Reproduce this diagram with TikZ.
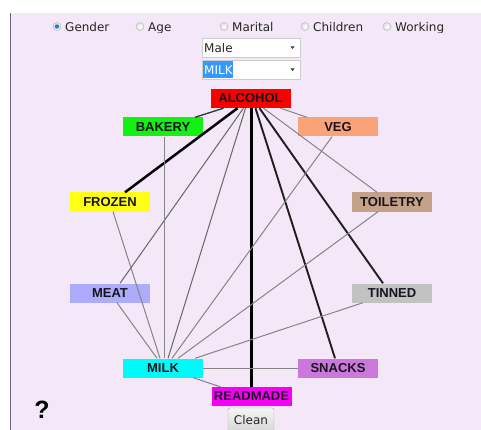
\documentclass[tikz,border=0pt]{standalone}
\usepackage{fontspec}
\newfontfamily\labfont{Liberation Sans}
\newfontfamily\uifont{DejaVu Sans}
\usetikzlibrary{calc}

\definecolor{panelbg}{RGB}{244,231,247}
\definecolor{panelrule}{RGB}{120,100,125}
\definecolor{cAlcohol}{RGB}{250,0,0}
\definecolor{cBakery}{RGB}{20,240,20}
\definecolor{cVeg}{RGB}{250,162,120}
\definecolor{cFrozen}{RGB}{255,255,20}
\definecolor{cToiletry}{RGB}{196,162,138}
\definecolor{cMeat}{RGB}{172,172,250}
\definecolor{cTinned}{RGB}{194,194,194}
\definecolor{cMilk}{RGB}{0,250,250}
\definecolor{cSnacks}{RGB}{202,120,220}
\definecolor{cReadmade}{RGB}{245,0,245}
\definecolor{selblue}{RGB}{51,153,255}
\definecolor{txtdark}{RGB}{25,20,30}

\tikzset{
  item/.style={minimum width=80pt, minimum height=19pt, inner sep=0pt,
    font=\labfont\bfseries\fontsize{13}{13}\selectfont, text=txtdark},
  heavy/.style={line width=2.5pt, black},
  strong/.style={line width=1.9pt, black!88},
  medium/.style={line width=1.3pt, black!80},
  faint/.style={line width=1pt, black!60},
  pale/.style={line width=1pt, black!48},
  radio/.style={circle, minimum size=8pt, inner sep=0pt, draw=black!30,
    inner color=white, outer color=black!12},
  uitext/.style={font=\uifont\fontsize{12}{12}\selectfont, text=black!85, inner sep=0pt},
  dropbox/.style={draw=black!20, fill=white, minimum width=98pt, minimum height=19pt, inner sep=0pt},
}

\begin{document}
\begin{tikzpicture}[x=1pt,y=-1pt]
\useasboundingbox (0,0) rectangle (481,430);
\fill[white] (0,0) rectangle (481,430);
\fill[panelbg] (10,13) rectangle (481,430);
\draw[panelrule, line width=0.8pt] (10,13) -- (10,430);

% option row, its lower edge trims the descenders
\begin{scope}
\clip (10,13) rectangle (481,32.6);
\node[radio] (rgender) at (57,26.5) {};
\fill[selblue!80!black] (rgender) circle (2.2pt);
\node[uitext, anchor=base west] (tgender) at (65,31.8) {Gender};
\node[radio] (rage) at (140,26.5) {};
\node[uitext, anchor=base west] (tage) at (148,31.8) {Age};
\node[radio] (rmarital) at (224,26.5) {};
\node[uitext, anchor=base west] (tmarital) at (232,31.8) {Marital};
\node[radio] (rchildren) at (305,26.5) {};
\node[uitext, anchor=base west] (tchildren) at (313,31.8) {Children};
\node[radio] (rworking) at (387,26.5) {};
\node[uitext, anchor=base west] (tworking) at (395,31.8) {Working};
\end{scope}

% drop-down selectors
\node[dropbox] (gsel) at (251,47.5) {};
\node[uitext, anchor=west] (gval) at (204,48) {Male};
\fill[black!80] (290.5,46.5) -- (294.5,46.5) -- (292.5,49) -- cycle;
\node[dropbox] (psel) at (251,69.5) {};
\fill[selblue] (203,61) rectangle (233,78);
\node[uitext, anchor=west, text=white] (pval) at (204,70) {MILK};
\fill[black!80] (290.5,68.5) -- (294.5,68.5) -- (292.5,71) -- cycle;

% product nodes
\node[item, fill=cAlcohol] (alcohol) at (250.5,98.5) {ALCOHOL};
\node[item, fill=cBakery] (bakery) at (163,127) {BAKERY};
\node[item, fill=cVeg] (veg) at (338,127) {VEG};
\node[item, fill=cFrozen] (frozen) at (110,202) {FROZEN};
\node[item, fill=cToiletry] (toiletry) at (392,202) {TOILETRY};
\node[item, fill=cMeat] (meat) at (110,293) {MEAT};
\node[item, fill=cTinned] (tinned) at (392,293) {TINNED};
\node[item, fill=cMilk] (milk) at (163,368) {MILK};
\node[item, fill=cSnacks] (snacks) at (338,368) {SNACKS};
\node[item, fill=cReadmade] (readmade) at (251.5,396.5) {READMADE};

% links from ALCOHOL
\draw[medium] ([xshift=-27pt]alcohol.south) -- ([xshift=32pt]bakery.north);
\draw[heavy] ([xshift=-13pt]alcohol.south) -- ([xshift=15pt]frozen.north);
\draw[faint] ([xshift=-7pt]alcohol.south) -- ([xshift=10pt]meat.north);
\draw[faint] ([xshift=-5pt]alcohol.south) -- ([xshift=5pt]milk.north);
\draw[heavy] ([xshift=1pt]alcohol.south) -- (readmade.north);
\draw[strong] ([xshift=5pt]alcohol.south) -- ([xshift=-3pt]snacks.north);
\draw[strong] ([xshift=9pt]alcohol.south) -- ([xshift=-9pt]tinned.north);
\draw[pale] ([xshift=13pt]alcohol.south) -- ([xshift=-15pt]toiletry.north);
\draw[pale] ([xshift=30pt]alcohol.south) -- ([xshift=-31pt]veg.north);

% links to MILK
\draw[pale] ([xshift=1pt]bakery.south) -- ([xshift=1pt]milk.north);
\draw[pale] ([xshift=3pt]frozen.south) -- ([xshift=-3pt]milk.north);
\draw[pale] ([xshift=7pt]meat.south) -- ([xshift=-6pt]milk.north);
\draw[pale] ([xshift=-6pt]veg.south) -- ([xshift=9pt]milk.north);
\draw[pale] ([xshift=-14pt]toiletry.south) -- ([xshift=15pt]milk.north);
\draw[pale] ([xshift=-29pt]tinned.south) -- ([xshift=32pt]milk.north);
\draw[pale] (milk.east) -- (snacks.west);
\draw[pale] ([xshift=30pt]milk.south) -- ([xshift=-31pt]readmade.north);

% clean button and help mark
\node[draw=black!35, rounded corners=1.5pt, top color=black!4, bottom color=black!16,
  minimum width=46pt, minimum height=24pt, inner sep=0pt] (clean) at (251,420) {};
\node[uitext] (cleantext) at (251,420) {Clean};
\node[font=\labfont\bfseries\fontsize{25}{25}\selectfont, text=black, inner sep=0pt] (help) at (42,410) {?};
\end{tikzpicture}
\end{document}
